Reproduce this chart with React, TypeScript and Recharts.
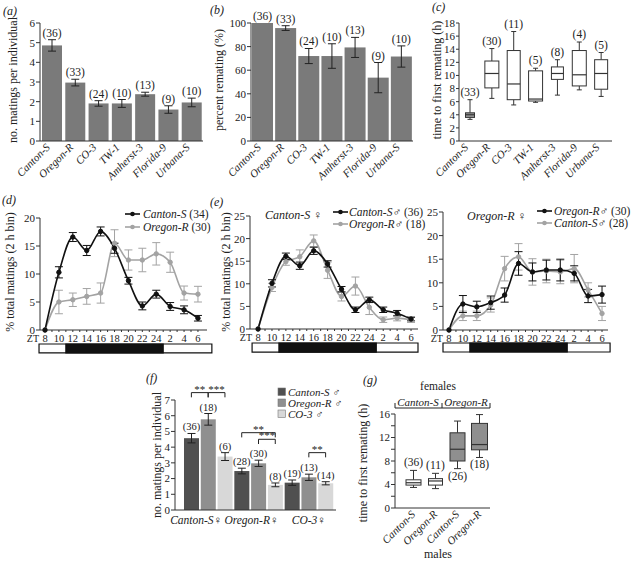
import React from 'react';
import {
  BarChart,
  Bar,
  XAxis,
  YAxis,
  ErrorBar,
  LineChart,
  Line,
  ReferenceArea,
  ReferenceLine,
} from 'recharts';

const FONT = "'Liberation Serif', 'DejaVu Serif', serif";
const INK = '#222';
const AXIS = '#333';

// ---------------- (a)-(c): strains ----------------
const strains = ['Canton-S', 'Oregon-R', 'CO-3', 'TW-1', 'Amherst-3', 'Florida-9', 'Urbana-S'];
const strainN = [36, 33, 24, 10, 13, 9, 10];
const matingsMean = [4.86, 2.97, 1.91, 1.91, 2.38, 1.6, 1.96];
const matingsErr = [0.29, 0.17, 0.14, 0.2, 0.1, 0.19, 0.22];
const aTicks = [0, 1, 2, 3, 4, 5, 6];

const rematingPct = [100, 95.7, 72, 72, 79.3, 53.7, 71.6];
const rematingErr = [0, 2, 6.4, 10.4, 8.5, 12.8, 9];
const bTicks = [0, 20, 40, 60, 80, 100];

const cN = [33, 30, 11, 5, 8, 4, 5];
const cMin = [3.3, 6.5, 5.5, 5.9, 7.0, 7.8, 6.8];
const cQ1 = [3.6, 8.1, 6.3, 6.1, 9.4, 8.4, 7.9];
const cMed = [4.0, 10.3, 8.7, 6.4, 10.3, 10.1, 10.3];
const cQ3 = [4.3, 12.2, 13.8, 10.7, 11.3, 13.8, 12.4];
const cMax = [6.3, 14.1, 16.7, 11.1, 12.4, 15.1, 13.5];
const cTicks = [0, 2, 4, 6, 8, 10, 12, 14, 16, 18];

// ---------------- (d)-(e): time courses ----------------
const ztLabels = ['8', '10', '12', '14', '16', '18', '20', '22', '24', '2', '4', '6'];
const darkStart = 1.5;
const darkEnd = 8.5;

const dCantonS = [0, 10.3, 16.6, 14.2, 17.6, 14.6, 8.8, 4.3, 6.4, 4.2, 3.6, 2.1];
const dCantonSErr = [0, 1.0, 0.8, 0.9, 0.8, 0.9, 0.6, 0.7, 0.7, 0.7, 0.7, 0.5];
const dOregonR = [0, 5.0, 5.4, 6.0, 6.6, 15.5, 12.5, 12.5, 13.6, 12.1, 6.6, 6.4];
const dOregonRErr = [0, 2.1, 1.2, 1.4, 1.8, 2.4, 1.8, 2.1, 2.0, 1.8, 1.25, 1.4];

const eCsFemCsMale = [0, 10.1, 16.1, 14.0, 17.3, 14.4, 8.8, 4.25, 6.45, 4.25, 3.5, 2.2];
const eCsFemCsMaleErr = [0, 0.8, 0.7, 0.8, 0.8, 0.7, 0.6, 0.6, 0.6, 0.6, 0.6, 0.4];
const eCsFemOrMale = [0, 9.2, 14.9, 16.0, 19.5, 13.0, 7.2, 9.5, 4.8, 2.05, 2.4, 2.05];
const eCsFemOrMaleErr = [0, 0.9, 0.8, 1.5, 1.3, 1.8, 1.0, 2.0, 1.6, 0.6, 0.6, 0.6];

const eOrFemOrMale = [0, 5.5, 4.9, 5.8, 7.4, 14.1, 12.3, 12.7, 12.7, 12.0, 7.2, 7.5];
const eOrFemOrMaleErr = [0, 1.8, 1.2, 1.4, 1.5, 2.5, 1.9, 2.1, 2.3, 1.6, 1.4, 1.8];
const eOrFemCsMale = [0, 3.0, 3.0, 5.3, 13.0, 15.5, 12.3, 12.5, 12.3, 13.0, 8.5, 3.5];
const eOrFemCsMaleErr = [0, 1.0, 1.0, 1.5, 2.6, 2.8, 2.8, 2.5, 2.5, 3.0, 1.5, 1.5];

const dTicks = [0, 5, 10, 15, 20];
const eTicks = [0, 5, 10, 15, 20, 25];

// ---------------- (f): reciprocal crosses ----------------
const fFemales = ['Canton-S', 'Oregon-R', 'CO-3'];
const fMales = ['Canton-S', 'Oregon-R', 'CO-3'];
const fCantonSFemMean = [4.57, 5.77, 3.4];
const fCantonSFemErr = [0.3, 0.37, 0.25];
const fCantonSFemN = [36, 18, 6];
const fOregonRFemMean = [2.48, 2.97, 1.6];
const fOregonRFemErr = [0.18, 0.2, 0.12];
const fOregonRFemN = [28, 30, 8];
const fCO3FemMean = [1.74, 2.08, 1.7];
const fCO3FemErr = [0.17, 0.2, 0.1];
const fCO3FemN = [19, 13, 14];
const fTicks = [0, 1, 2, 3, 4, 5, 6, 7];
const fSigGroup = [0, 0, 1, 1, 2];
const fSigFrom = [0, 1, 0, 1, 1];
const fSigTo = [1, 2, 2, 2, 2];
const fSigStars = ['**', '***', '**', '***', '**'];

// ---------------- (g): time to first remating ----------------
const gFemales = ['Canton-S', 'Canton-S', 'Oregon-R', 'Oregon-R'];
const gMales = ['Canton-S', 'Oregon-R', 'Canton-S', 'Oregon-R'];
const gN = [36, 11, 26, 18];
const gMin = [3.5, 3.3, 6.7, 8.6];
const gQ1 = [3.9, 3.9, 8.0, 9.9];
const gMed = [4.3, 4.6, 10.0, 10.8];
const gQ3 = [4.8, 5.0, 12.8, 14.4];
const gMax = [6.4, 5.9, 14.8, 15.9];
const gTicks = [0, 2, 4, 6, 8, 10, 12, 14, 16];

// ---------------- derived rows ----------------
const aRows = strains.map((s, i) => ({ name: s, v: matingsMean[i], err: matingsErr[i] }));
const bRows = strains.map((s, i) => ({ name: s, v: rematingPct[i], err: rematingErr[i] }));
const cRows = strains.map((s, i) => ({ name: s, max: cMax[i] }));

const dRows = ztLabels.map((_, i) => ({
  i,
  black: dCantonS[i],
  blackErr: dCantonSErr[i],
  gray: dOregonR[i],
  grayErr: dOregonRErr[i],
}));
const eLeftRows = ztLabels.map((_, i) => ({
  i,
  black: eCsFemCsMale[i],
  blackErr: eCsFemCsMaleErr[i],
  gray: eCsFemOrMale[i],
  grayErr: eCsFemOrMaleErr[i],
}));
const eRightRows = ztLabels.map((_, i) => ({
  i,
  black: eOrFemOrMale[i],
  blackErr: eOrFemOrMaleErr[i],
  gray: eOrFemCsMale[i],
  grayErr: eOrFemCsMaleErr[i],
}));

const fMean = [...fCantonSFemMean, ...fOregonRFemMean, ...fCO3FemMean];
const fErr = [...fCantonSFemErr, ...fOregonRFemErr, ...fCO3FemErr];
const fN = [...fCantonSFemN, ...fOregonRFemN, ...fCO3FemN];
const fKeys = fFemales.flatMap((f) => fMales.map((m) => `${f}|${m}`));
const fRows = fKeys.map((k, i) => ({ key: k, v: fMean[i], err: fErr[i] }));

const gKeys = gMales.map((m, i) => `${gFemales[i]}|${m}`);
const gRows = gKeys.map((k, i) => ({ key: k, max: gMax[i] }));

// ---------------- styles ----------------
const barGray = '#7a7a7a';
const fMaleColors = ['#505050', '#8f8f8f', '#d8d8d8'];
const lineBlack = '#111';
const lineGray = '#a3a3a3';
const fSigY = [7.47, 7.47, 4.92, 4.5, 3.65];
const fSigDrop = 0.3;
const yTick = { fontSize: 11, fill: INK, fontFamily: FONT };
const xTicksTC = Array.from({ length: 23 }, (_, k) => k / 2);

// ---------------- shapes & ticks ----------------
const StrainTick = (props: any) => {
  const { x, y, payload } = props;
  const tx = x - 1;
  const ty = y + 1;
  return (
    <text x={tx} y={ty} transform={`rotate(-45 ${tx} ${ty})`} textAnchor="end" fontStyle="italic" fontSize={11} fontFamily={FONT} fill={INK}>
      {payload.value}
    </text>
  );
};

const GTick = (props: any) => {
  const { x, y, payload } = props;
  const i = gKeys.indexOf(payload.value);
  const tx = x + 3;
  const ty = y + 1;
  return (
    <text x={tx} y={ty} transform={`rotate(-45 ${tx} ${ty})`} textAnchor="end" fontStyle="italic" fontSize={11} fontFamily={FONT} fill={INK}>
      {gMales[i]}
    </text>
  );
};

const fLabelShift = [-12, -7, 0];
const FTick = (props: any) => {
  const { x, y, payload } = props;
  const i = fKeys.indexOf(payload.value);
  if (i % 3 !== 1) return <g />;
  const g = Math.floor(i / 3);
  return (
    <text x={x + fLabelShift[g]} y={y + 9} textAnchor="middle" fontSize={11.5} fontFamily={FONT} fill={INK}>
      <tspan fontStyle="italic">{fFemales[g]}</tspan>
      <tspan>♀</tspan>
    </text>
  );
};

const ZtTick = (props: any) => {
  const { x, y, payload } = props;
  const v = Number(payload.value);
  if (!Number.isInteger(v)) return <g />;
  return (
    <g>
      {v === 0 ? (
        <text x={x - 6} y={y + 9} textAnchor="end" fontSize={10} fontFamily={FONT} fill={INK}>
          ZT
        </text>
      ) : null}
      <text x={x} y={y + 9} textAnchor="middle" fontSize={10.5} fontFamily={FONT} fill={INK}>
        {ztLabels[v]}
      </text>
    </g>
  );
};

function nBarShape(vals: number[], errs: number[], ns: number[], fills: string[], fs: number) {
  return (props: any) => {
    const { x, y, width, height, index } = props;
    const v = vals[index];
    const unit = v ? height / v : 0;
    const top = y - errs[index] * unit;
    return (
      <g>
        <rect x={x} y={y} width={width} height={height} fill={fills[index % fills.length]} />
        <text x={x + width / 2} y={top - 3} textAnchor="middle" fontSize={fs} fontFamily={FONT} fill={INK}>
          ({ns[index]})
        </text>
      </g>
    );
  };
}

function boxShape(
  mins: number[],
  q1s: number[],
  meds: number[],
  q3s: number[],
  maxs: number[],
  ns: number[],
  fills: string[],
  boxW: number[],
  capW: number,
  below: boolean[],
) {
  return (props: any) => {
    const { x, y, width, height, index: i } = props;
    const unit = height / maxs[i];
    const base = y + height;
    const Y = (v: number) => base - v * unit;
    const cx = x + width / 2;
    const bw = boxW[i];
    const labelY = below[i] ? Y(mins[i]) + 11 : Y(maxs[i]) - 4;
    return (
      <g>
        <line x1={cx} x2={cx} y1={Y(maxs[i])} y2={Y(q3s[i])} stroke={AXIS} strokeWidth={1} />
        <line x1={cx} x2={cx} y1={Y(q1s[i])} y2={Y(mins[i])} stroke={AXIS} strokeWidth={1} />
        <line x1={cx - capW / 2} x2={cx + capW / 2} y1={Y(maxs[i])} y2={Y(maxs[i])} stroke={AXIS} strokeWidth={1} />
        <line x1={cx - capW / 2} x2={cx + capW / 2} y1={Y(mins[i])} y2={Y(mins[i])} stroke={AXIS} strokeWidth={1} />
        <rect x={cx - bw / 2} y={Y(q3s[i])} width={bw} height={Y(q1s[i]) - Y(q3s[i])} fill={fills[i]} stroke={AXIS} strokeWidth={1} />
        <line x1={cx - bw / 2} x2={cx + bw / 2} y1={Y(meds[i])} y2={Y(meds[i])} stroke={AXIS} strokeWidth={1.2} />
        <text x={cx} y={labelY} textAnchor="middle" fontSize={11.5} fontFamily={FONT} fill={INK}>
          ({ns[i]})
        </text>
      </g>
    );
  };
}

const aShape = nBarShape(matingsMean, matingsErr, strainN, [barGray], 11.5);
const bShape = nBarShape(rematingPct, rematingErr, strainN, [barGray], 11.5);
const fShape = nBarShape(fMean, fErr, fN, fMaleColors, 10.5);
const cShape = boxShape(
  cMin, cQ1, cMed, cQ3, cMax, cN,
  ['#9a9a9a', '#fff', '#fff', '#fff', '#fff', '#fff', '#fff'],
  [9, 14, 13, 14, 12, 14, 13],
  5,
  [false, false, false, false, false, false, false],
);
const gShape = boxShape(
  gMin, gQ1, gMed, gQ3, gMax, gN,
  ['#fff', '#fff', '#8f8f8f', '#8f8f8f'],
  [15, 14, 15, 16],
  7,
  [false, false, true, true],
);

// ---------------- time-course panel ----------------
type TCProps = {
  rows: any[];
  width: number;
  height: number;
  margin: { top: number; right: number; left: number; bottom: number };
  yWidth: number;
  yMax: number;
  yTicks: number[];
  xDomain: [number, number];
  barX: [number, number];
  barY: [number, number];
};

function TimeCourse(p: TCProps) {
  return (
    <LineChart width={p.width} height={p.height} data={p.rows} margin={p.margin}>
      <XAxis
        dataKey="i"
        type="number"
        domain={p.xDomain}
        allowDataOverflow
        ticks={xTicksTC}
        interval={0}
        tick={ZtTick}
        tickSize={2}
        tickMargin={1}
        height={20}
        axisLine={{ stroke: AXIS }}
        tickLine={{ stroke: AXIS }}
      />
      <YAxis
        domain={[0, p.yMax]}
        ticks={p.yTicks}
        interval={0}
        width={p.yWidth}
        tickSize={4}
        tickMargin={1}
        tick={yTick}
        axisLine={{ stroke: AXIS }}
        tickLine={{ stroke: AXIS }}
      />
      <ReferenceArea
        x1={p.barX[0]}
        x2={p.barX[1]}
        y1={p.barY[0]}
        y2={p.barY[1]}
        ifOverflow="visible"
        fill="#fff"
        fillOpacity={1}
        stroke="#111"
        strokeWidth={1.2}
      />
      <ReferenceArea
        x1={darkStart}
        x2={darkEnd}
        y1={p.barY[0]}
        y2={p.barY[1]}
        ifOverflow="visible"
        fill="#111"
        fillOpacity={1}
        stroke="#111"
        strokeWidth={1.2}
      />
      <Line
        type="monotone"
        dataKey="gray"
        stroke={lineGray}
        strokeWidth={1.6}
        dot={{ r: 2.2, fill: lineGray, stroke: lineGray, strokeWidth: 1 }}
        isAnimationActive={false}
      >
        <ErrorBar dataKey="grayErr" direction="y" width={4} stroke={lineGray} strokeWidth={1} />
      </Line>
      <Line
        type="monotone"
        dataKey="black"
        stroke={lineBlack}
        strokeWidth={1.6}
        dot={{ r: 2.2, fill: lineBlack, stroke: lineBlack, strokeWidth: 1 }}
        isAnimationActive={false}
      >
        <ErrorBar dataKey="blackErr" direction="y" width={4} stroke={lineBlack} strokeWidth={1} />
      </Line>
    </LineChart>
  );
}

// ---------------- overlay texts ----------------
const T = (props: any) => <text fontFamily={FONT} fill={INK} fontSize={12} {...props} />;
const VTitle = ({ x, y, children }: { x: number; y: number; children: React.ReactNode }) => (
  <text
    x={x}
    y={y}
    transform={`rotate(-90 ${x} ${y})`}
    textAnchor="middle"
    dominantBaseline="central"
    fontFamily={FONT}
    fontSize={12}
    fill={INK}
  >
    {children}
  </text>
);

const LegendLine = ({ x, y, color }: { x: number; y: number; color: string }) => (
  <g>
    <line x1={x} x2={x + 15} y1={y} y2={y} stroke={color} strokeWidth={1.6} />
    <circle cx={x + 7.5} cy={y} r={2.3} fill={color} />
  </g>
);

function Overlay() {
  return (
    <svg width={633} height={563} style={{ position: 'absolute', left: 0, top: 0, pointerEvents: 'none' }}>
      {/* panel letters */}
      <T x={3} y={15} fontStyle="italic">(a)</T>
      <T x={210} y={14} fontStyle="italic">(b)</T>
      <T x={432} y={11} fontStyle="italic">(c)</T>
      <T x={2} y={204} fontStyle="italic">(d)</T>
      <T x={210} y={206} fontStyle="italic">(e)</T>
      <T x={146} y={382} fontStyle="italic">(f)</T>
      <T x={363} y={384} fontStyle="italic">(g)</T>

      {/* axis titles */}
      <VTitle x={13} y={80}>no. matings per individual</VTitle>
      <VTitle x={219} y={80}>percent remating (%)</VTitle>
      <VTitle x={437} y={80}>time to first remating (h)</VTitle>
      <VTitle x={10} y={272}>% total matings (2 h bin)</VTitle>
      <VTitle x={226} y={272}>% total matings (2 h bin)</VTitle>
      <VTitle x={157} y={455}>no. matings per individual</VTitle>
      <VTitle x={363} y={463}>time to first remating (h)</VTitle>

      {/* (d) legend */}
      <LegendLine x={125} y={214} color={lineBlack} />
      <T x={143} y={218} fontSize={11.5}>
        <tspan fontStyle="italic">Canton-S</tspan> (34)
      </T>
      <LegendLine x={125} y={227} color={lineGray} />
      <T x={143} y={231} fontSize={11.5}>
        <tspan fontStyle="italic">Oregon-R</tspan> (30)
      </T>

      {/* (e) left legend */}
      <T x={265} y={219}>
        <tspan fontStyle="italic">Canton-S</tspan> ♀
      </T>
      <LegendLine x={333} y={212} color={lineBlack} />
      <T x={349} y={216} fontSize={11.5}>
        <tspan fontStyle="italic">Canton-S</tspan>♂ (36)
      </T>
      <LegendLine x={333} y={224} color={lineGray} />
      <T x={349} y={228} fontSize={11.5}>
        <tspan fontStyle="italic">Oregon-R</tspan>♂ (18)
      </T>

      {/* (e) right legend */}
      <T x={467} y={220}>
        <tspan fontStyle="italic">Oregon-R</tspan> ♀
      </T>
      <LegendLine x={537} y={211} color={lineBlack} />
      <T x={554} y={215} fontSize={11.5}>
        <tspan fontStyle="italic">Oregon-R</tspan>♂ (30)
      </T>
      <LegendLine x={537} y={223} color={lineGray} />
      <T x={554} y={227} fontSize={11.5}>
        <tspan fontStyle="italic">Canton-S</tspan>♂ (28)
      </T>

      {/* (f) legend */}
      {fMales.map((m, j) => (
        <g key={m}>
          <rect x={278} y={388 + j * 11} width={7.5} height={7.5} fill={fMaleColors[j]} stroke="#777" strokeWidth={0.6} />
          <T x={288} y={396 + j * 11} fontSize={11}>
            <tspan fontStyle="italic">{m}</tspan> ♂
          </T>
        </g>
      ))}

      {/* (g) header */}
      <T x={438} y={390} textAnchor="middle" fontSize={11.5}>females</T>
      <line x1={395} x2={490} y1={408} y2={408} stroke={INK} strokeWidth={1} />
      <line x1={395} x2={395} y1={408} y2={403} stroke={INK} strokeWidth={1} />
      <line x1={442} x2={442} y1={408} y2={403} stroke={INK} strokeWidth={1} />
      <line x1={490} x2={490} y1={408} y2={403} stroke={INK} strokeWidth={1} />
      <T x={418} y={406} textAnchor="middle" fontStyle="italic" fontSize={11}>{gFemales[0]}</T>
      <T x={466} y={406} textAnchor="middle" fontStyle="italic" fontSize={11}>{gFemales[2]}</T>
      <T x={438} y={558} textAnchor="middle" fontSize={12}>males</T>
    </svg>
  );
}

export default function App() {
  return (
    <div
      style={{
        position: 'absolute',
        left: 0,
        top: 0,
        width: 633,
        height: 563,
        background: '#fff',
        overflow: 'hidden',
        fontFamily: FONT,
      }}
    >
      {/* (a) */}
      <div style={{ position: 'absolute', left: 0, top: 0 }}>
        <BarChart width={210} height={205} data={aRows} margin={{ top: 23, right: 7, left: 0, bottom: 0 }} barSize={20}>
          <XAxis dataKey="name" interval={0} tick={StrainTick} tickLine={false} tickSize={4} height={64} axisLine={{ stroke: AXIS }} />
          <YAxis
            domain={[0, 6]}
            ticks={aTicks}
            interval={0}
            width={40}
            tickSize={4}
            tickMargin={1}
            tick={yTick}
            axisLine={{ stroke: AXIS }}
            tickLine={{ stroke: AXIS }}
          />
          <Bar dataKey="v" isAnimationActive={false} shape={aShape}>
            <ErrorBar dataKey="err" width={4} stroke={INK} strokeWidth={1} />
          </Bar>
        </BarChart>
      </div>

      {/* (b) */}
      <div style={{ position: 'absolute', left: 205, top: 0 }}>
        <BarChart width={215} height={205} data={bRows} margin={{ top: 23, right: 7, left: 0, bottom: 0 }} barSize={21}>
          <XAxis dataKey="name" interval={0} tick={StrainTick} tickLine={false} tickSize={4} height={64} axisLine={{ stroke: AXIS }} />
          <YAxis
            domain={[0, 100]}
            ticks={bTicks}
            interval={0}
            width={46}
            tickSize={4}
            tickMargin={1}
            tick={yTick}
            axisLine={{ stroke: AXIS }}
            tickLine={{ stroke: AXIS }}
          />
          <Bar dataKey="v" isAnimationActive={false} shape={bShape}>
            <ErrorBar dataKey="err" width={4} stroke={INK} strokeWidth={1} />
          </Bar>
        </BarChart>
      </div>

      {/* (c) */}
      <div style={{ position: 'absolute', left: 415, top: 0 }}>
        <BarChart width={215} height={205} data={cRows} margin={{ top: 23, right: 18, left: 0, bottom: 0 }} barSize={14}>
          <XAxis dataKey="name" interval={0} tick={StrainTick} tickLine={false} tickSize={4} height={64} axisLine={{ stroke: AXIS }} />
          <YAxis
            domain={[0, 18]}
            ticks={cTicks}
            interval={0}
            width={44}
            tickSize={3}
            tickMargin={1}
            tick={yTick}
            axisLine={{ stroke: AXIS }}
            tickLine={{ stroke: AXIS }}
          />
          <Bar dataKey="max" isAnimationActive={false} shape={cShape} />
        </BarChart>
      </div>

      {/* (d) */}
      <div style={{ position: 'absolute', left: 0, top: 200 }}>
        <TimeCourse
          rows={dRows}
          width={215}
          height={160}
          margin={{ top: 18, right: 8, left: 0, bottom: 10 }}
          yWidth={40}
          yMax={20}
          yTicks={dTicks}
          xDomain={[-0.36, 11.65]}
          barX={[-0.43, 12.0]}
          barY={[-4.1, -2.5]}
        />
      </div>

      {/* (e) left */}
      <div style={{ position: 'absolute', left: 200, top: 200 }}>
        <TimeCourse
          rows={eLeftRows}
          width={225}
          height={160}
          margin={{ top: 16, right: 7, left: 0, bottom: 11 }}
          yWidth={50}
          yMax={25}
          yTicks={eTicks}
          xDomain={[-0.58, 11.5]}
          barX={[-0.43, 11.5]}
          barY={[-5.1, -3.1]}
        />
      </div>

      {/* (e) right */}
      <div style={{ position: 'absolute', left: 420, top: 200 }}>
        <TimeCourse
          rows={eRightRows}
          width={213}
          height={160}
          margin={{ top: 12, right: 25, left: 0, bottom: 10 }}
          yWidth={23}
          yMax={25}
          yTicks={eTicks}
          xDomain={[-0.43, 11.43]}
          barX={[-0.43, 11.58]}
          barY={[-4.66, -2.75]}
        />
      </div>

      {/* (f) */}
      <div style={{ position: 'absolute', left: 150, top: 380 }}>
        <BarChart width={190} height={150} data={fRows} margin={{ top: 20, right: 4, left: 0, bottom: 0 }} barSize={15}>
          <XAxis
            dataKey="key"
            interval={0}
            tick={FTick}
            tickLine={false}
            tickSize={3}
            height={20}
            padding={{ left: 8, right: 2 }}
            axisLine={{ stroke: AXIS }}
          />
          <YAxis
            domain={[0, 7]}
            ticks={fTicks}
            interval={0}
            width={25}
            tickSize={4}
            tickMargin={1}
            tick={yTick}
            axisLine={{ stroke: AXIS }}
            tickLine={{ stroke: AXIS }}
          />
          <Bar dataKey="v" isAnimationActive={false} shape={fShape}>
            <ErrorBar dataKey="err" width={4} stroke={INK} strokeWidth={1} />
          </Bar>
          {fSigGroup.map((g, k) => {
            const xa = fKeys[g * 3 + fSigFrom[k]];
            const xb = fKeys[g * 3 + fSigTo[k]];
            const yy = fSigY[k];
            return [
              <ReferenceLine
                key={`h${k}`}
                segment={[
                  { x: xa, y: yy },
                  { x: xb, y: yy },
                ]}
                ifOverflow="visible"
                stroke={INK}
                strokeWidth={1}
                label={{ value: fSigStars[k], position: 'top', offset: 0, fontSize: 11, fill: INK, fontFamily: FONT }}
              />,
              <ReferenceLine
                key={`l${k}`}
                segment={[
                  { x: xa, y: yy },
                  { x: xa, y: yy - fSigDrop },
                ]}
                ifOverflow="visible"
                stroke={INK}
                strokeWidth={1}
              />,
              <ReferenceLine
                key={`r${k}`}
                segment={[
                  { x: xb, y: yy },
                  { x: xb, y: yy - fSigDrop },
                ]}
                ifOverflow="visible"
                stroke={INK}
                strokeWidth={1}
              />,
            ];
          })}
        </BarChart>
      </div>

      {/* (g) */}
      <div style={{ position: 'absolute', left: 360, top: 380 }}>
        <BarChart width={135} height={183} data={gRows} margin={{ top: 34, right: 5, left: 0, bottom: 5 }} barSize={15}>
          <XAxis
            dataKey="key"
            interval={0}
            tick={GTick}
            tickLine={false}
            tickSize={4}
            height={50}
            padding={{ left: 7, right: 0 }}
            axisLine={{ stroke: AXIS }}
          />
          <YAxis
            domain={[0, 16]}
            ticks={gTicks}
            interval={0}
            width={35}
            tickSize={4}
            tickMargin={1}
            tick={yTick}
            tickFormatter={(v: number) => (v % 4 === 0 ? String(v) : '')}
            axisLine={{ stroke: AXIS }}
            tickLine={{ stroke: AXIS }}
          />
          <Bar dataKey="max" isAnimationActive={false} shape={gShape} />
        </BarChart>
      </div>

      <Overlay />
    </div>
  );
}
